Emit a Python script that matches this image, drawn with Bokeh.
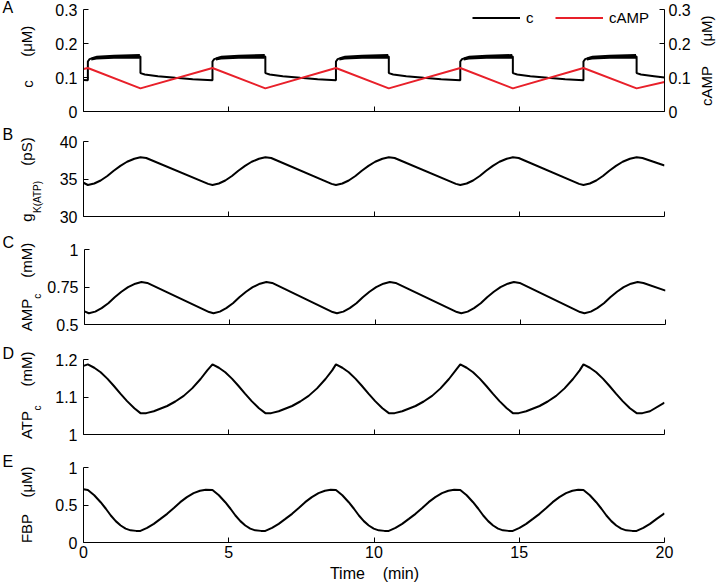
import math
from bokeh.plotting import figure
from bokeh.models import Range1d, LinearAxis, FixedTicker, Legend, LegendItem
from bokeh.layouts import column, row
from bokeh.embed import file_html
from bokeh.resources import INLINE
from bokeh.core.properties import value

# ---------------- data ----------------
x_ticks = [0, 5, 10, 15, 20]
x_tick_labels = ["0", "5", "10", "15", "20"]

# Panel A: cytosolic Ca (c) and cAMP, uM
c_t = [0.00, 0.15, 0.15, 0.21, 0.35, 1.05, 1.96, 1.96, 2.11, 2.56, 3.16, 3.76,
       4.44, 4.44, 4.50, 4.64, 5.34, 6.26, 6.26, 6.41, 6.86, 7.46, 8.06,
       8.69, 8.69, 8.75, 8.89, 9.59, 10.51, 10.51, 10.66, 11.11, 11.71, 12.31,
       12.97, 12.97, 13.03, 13.17, 13.87, 14.78, 14.78, 14.93, 15.38, 15.98, 16.58,
       17.21, 17.21, 17.27, 17.41, 18.11, 19.04, 19.04, 19.19, 19.64, 20.00]
c_v = [0.093, 0.092, 0.147, 0.154, 0.158, 0.161, 0.162, 0.113, 0.109, 0.104, 0.099, 0.095,
       0.092, 0.147, 0.154, 0.158, 0.161, 0.162, 0.113, 0.109, 0.104, 0.099, 0.095,
       0.092, 0.147, 0.154, 0.158, 0.161, 0.162, 0.113, 0.109, 0.104, 0.099, 0.095,
       0.092, 0.147, 0.154, 0.158, 0.161, 0.162, 0.113, 0.109, 0.104, 0.099, 0.095,
       0.092, 0.147, 0.154, 0.158, 0.161, 0.162, 0.113, 0.109, 0.104, 0.100]
# fast-oscillation band during the active phases (lower / upper envelope)
band_t = [[0.27, 0.45, 1.05, 1.94], [4.56, 4.74, 5.34, 6.24], [8.81, 8.99, 9.59, 10.49],
          [13.09, 13.27, 13.87, 14.76], [17.33, 17.51, 18.11, 19.02]]
band_lo = [[0.150, 0.153, 0.155, 0.155], [0.150, 0.153, 0.155, 0.155], [0.150, 0.153, 0.155, 0.155],
           [0.150, 0.153, 0.155, 0.155], [0.150, 0.153, 0.155, 0.155]]
band_hi = [[0.158, 0.164, 0.167, 0.169], [0.158, 0.164, 0.167, 0.169], [0.158, 0.164, 0.167, 0.169],
           [0.158, 0.164, 0.167, 0.169], [0.158, 0.164, 0.167, 0.169]]
camp_t = [0.00, 0.15, 1.96, 4.44, 6.26, 8.69, 10.51, 12.97, 14.78, 17.21, 19.04, 20.00]
camp_v = [0.125, 0.128, 0.068, 0.128, 0.068, 0.128, 0.068, 0.128, 0.068, 0.128, 0.068, 0.087]
a_ticks = [0, 0.1, 0.2, 0.3]
a_tick_labels = ["0", "0.1", "0.2", "0.3"]

# Panel B: gK(ATP), pS
gk_t = [0.00,
        0.15, 0.37, 0.59, 0.82, 1.04, 1.27, 1.50, 1.75, 1.96, 2.16, 4.29,
        4.44, 4.66, 4.88, 5.11, 5.33, 5.56, 5.79, 6.04, 6.26, 6.46, 8.54,
        8.69, 8.91, 9.13, 9.36, 9.58, 9.81, 10.04, 10.29, 10.51, 10.71, 12.82,
        12.97, 13.19, 13.41, 13.64, 13.86, 14.09, 14.32, 14.57, 14.78, 14.98, 17.06,
        17.21, 17.43, 17.65, 17.88, 18.10, 18.33, 18.56, 18.81, 19.04, 19.24, 20.00]
gk_v = [34.5,
        34.2, 34.4, 34.8, 35.4, 36.1, 36.75, 37.3, 37.7, 37.9, 37.8, 34.35,
        34.2, 34.4, 34.8, 35.4, 36.1, 36.75, 37.3, 37.7, 37.9, 37.8, 34.35,
        34.2, 34.4, 34.8, 35.4, 36.1, 36.75, 37.3, 37.7, 37.9, 37.8, 34.35,
        34.2, 34.4, 34.8, 35.4, 36.1, 36.75, 37.3, 37.7, 37.9, 37.8, 34.35,
        34.2, 34.4, 34.8, 35.4, 36.1, 36.75, 37.3, 37.7, 37.9, 37.8, 36.8]
b_ticks = [30, 35, 40]
b_tick_labels = ["30", "35", "40"]

# Panel C: AMPc, mM
amp_t = gk_t
amp_v = [0.587,
         0.575, 0.586, 0.609, 0.642, 0.682, 0.718, 0.749, 0.772, 0.783, 0.777, 0.583,
         0.575, 0.586, 0.609, 0.642, 0.682, 0.718, 0.749, 0.772, 0.783, 0.777, 0.583,
         0.575, 0.586, 0.609, 0.642, 0.682, 0.718, 0.749, 0.772, 0.783, 0.777, 0.583,
         0.575, 0.586, 0.609, 0.642, 0.682, 0.718, 0.749, 0.772, 0.783, 0.777, 0.583,
         0.575, 0.586, 0.609, 0.642, 0.682, 0.718, 0.749, 0.772, 0.783, 0.777, 0.726]
c_ticks = [0.5, 0.75, 1.0]
c_tick_labels = ["0.5", "0.75", "1"]

# Panel D: ATPc, mM
atp_t = [0.00,
         0.15, 0.37, 0.59, 0.82, 1.04, 1.27, 1.50, 1.75, 1.96, 2.16, 2.42, 2.88, 3.16, 3.45, 3.74, 4.03, 4.26,
         4.44, 4.66, 4.88, 5.11, 5.33, 5.56, 5.79, 6.04, 6.26, 6.46, 6.72, 7.18, 7.46, 7.75, 8.04, 8.33, 8.56,
         8.69, 8.91, 9.13, 9.36, 9.58, 9.81, 10.04, 10.29, 10.51, 10.71, 10.97, 11.43, 11.71, 12.00, 12.29, 12.58, 12.81,
         12.97, 13.19, 13.41, 13.64, 13.86, 14.09, 14.32, 14.57, 14.78, 14.98, 15.24, 15.70, 15.98, 16.27, 16.56, 16.85, 17.08,
         17.21, 17.43, 17.65, 17.88, 18.10, 18.33, 18.56, 18.81, 19.04, 19.24, 19.50, 20.00]
atp_v = [1.183,
         1.187, 1.178, 1.166, 1.149, 1.130, 1.109, 1.089, 1.070, 1.057, 1.057, 1.062, 1.076, 1.088, 1.103, 1.123, 1.148, 1.171,
         1.187, 1.178, 1.166, 1.149, 1.130, 1.109, 1.089, 1.070, 1.057, 1.057, 1.062, 1.076, 1.088, 1.103, 1.123, 1.148, 1.171,
         1.187, 1.178, 1.166, 1.149, 1.130, 1.109, 1.089, 1.070, 1.057, 1.057, 1.062, 1.076, 1.088, 1.103, 1.123, 1.148, 1.171,
         1.187, 1.178, 1.166, 1.149, 1.130, 1.109, 1.089, 1.070, 1.057, 1.057, 1.062, 1.076, 1.088, 1.103, 1.123, 1.148, 1.171,
         1.187, 1.178, 1.166, 1.149, 1.130, 1.109, 1.089, 1.070, 1.057, 1.057, 1.062, 1.085]
d_ticks = [1.0, 1.1, 1.2]
d_tick_labels = ["1", "1.1", "1.2"]

# Panel E: FBP, uM
fbp_t = [0.00,
         0.15, 0.37, 0.59, 0.77, 0.94, 1.11, 1.28, 1.45, 1.62, 1.81, 1.96, 2.19, 2.42, 2.65, 2.88, 3.11, 3.33, 3.56, 3.79, 4.01, 4.21,
         4.44, 4.66, 4.88, 5.06, 5.23, 5.40, 5.57, 5.74, 5.91, 6.11, 6.26, 6.49, 6.72, 6.95, 7.18, 7.41, 7.63, 7.86, 8.09, 8.31, 8.51,
         8.69, 8.91, 9.13, 9.31, 9.48, 9.65, 9.82, 9.99, 10.16, 10.36, 10.51, 10.74, 10.97, 11.20, 11.43, 11.66, 11.88, 12.11, 12.34, 12.56, 12.76,
         12.97, 13.19, 13.41, 13.59, 13.76, 13.93, 14.10, 14.27, 14.44, 14.63, 14.78, 15.01, 15.24, 15.47, 15.70, 15.93, 16.15, 16.38, 16.61, 16.83, 17.03,
         17.21, 17.43, 17.65, 17.83, 18.00, 18.17, 18.34, 18.51, 18.68, 18.89, 19.04, 19.27, 19.50, 19.73, 20.00]
fbp_v = [0.71,
         0.70, 0.63, 0.537, 0.45, 0.36, 0.285, 0.227, 0.185, 0.162, 0.155, 0.155, 0.195, 0.249, 0.315, 0.382, 0.46, 0.538, 0.605, 0.658, 0.69, 0.703,
         0.70, 0.63, 0.537, 0.45, 0.36, 0.285, 0.227, 0.185, 0.162, 0.155, 0.155, 0.195, 0.249, 0.315, 0.382, 0.46, 0.538, 0.605, 0.658, 0.69, 0.703,
         0.70, 0.63, 0.537, 0.45, 0.36, 0.285, 0.227, 0.185, 0.162, 0.155, 0.155, 0.195, 0.249, 0.315, 0.382, 0.46, 0.538, 0.605, 0.658, 0.69, 0.703,
         0.70, 0.63, 0.537, 0.45, 0.36, 0.285, 0.227, 0.185, 0.162, 0.155, 0.155, 0.195, 0.249, 0.315, 0.382, 0.46, 0.538, 0.605, 0.658, 0.69, 0.703,
         0.70, 0.63, 0.537, 0.45, 0.36, 0.285, 0.227, 0.185, 0.162, 0.155, 0.155, 0.195, 0.249, 0.315, 0.388]
e_ticks = [0, 0.5, 1.0]
e_tick_labels = ["0", "0.5", "1"]

# ---------------- styling / layout ----------------
FONT = "Liberation Sans"
TICK_FS = "16px"
BLACK = "#000000"
RED = "#e8202a"
LW = 2
LAB_W = 44        # width of the left strip holding the y-axis titles
AX_W = 39         # room for tick labels (frame starts at x = 83)
FRAME_W = 581
RIGHT_B = 34
PANEL_RIGHT = LAB_W + AX_W + FRAME_W + RIGHT_B   # 698
RLAB_W = 716 - PANEL_RIGHT                       # right strip for the cAMP axis title
CAP_MID = 5.6     # px between a 16px text's baseline and the middle of its em box
NBSP = "\u00a0"


def style_axis(ax, ticks, labels, show_labels=True, standoff=6):
    ax.ticker = FixedTicker(ticks=ticks)
    ax.major_tick_in = 5
    ax.major_tick_out = 0
    ax.minor_tick_in = 0
    ax.minor_tick_out = 0
    ax.axis_line_color = BLACK
    ax.axis_line_width = 1
    ax.major_tick_line_color = BLACK
    ax.major_label_text_font = FONT
    ax.major_label_text_color = BLACK
    ax.major_label_text_font_size = TICK_FS
    ax.axis_label_standoff = 0
    if show_labels:
        ax.major_label_overrides = {t: s for t, s in zip(ticks, labels)}
        ax.major_label_standoff = standoff
    else:
        ax.major_label_overrides = {t: "" for t in ticks}
        ax.major_label_standoff = 0


def make_panel(yr, yticks, ylabels, top, frame_h, bottom, show_x=False):
    p = figure(frame_width=FRAME_W, frame_height=frame_h,
               x_range=Range1d(0, 20), y_range=Range1d(*yr),
               output_backend="svg", toolbar_location=None,
               min_border_left=AX_W, min_border_right=RIGHT_B,
               min_border_top=top, min_border_bottom=bottom, frame_align=False)
    p.outline_line_color = None
    p.xgrid.visible = False
    p.ygrid.visible = False
    p.background_fill_color = None
    p.border_fill_color = None
    style_axis(p.xaxis[0], x_ticks, x_tick_labels, show_labels=show_x, standoff=3)
    style_axis(p.yaxis[0], yticks, ylabels, show_labels=True, standoff=6)
    return p


def text_strip(width, height):
    f = figure(frame_width=width, frame_height=height,
               x_range=Range1d(0, width), y_range=Range1d(0, height),
               output_backend="svg", toolbar_location=None,
               min_border=0, x_axis_type=None, y_axis_type=None, frame_align=False)
    f.outline_line_color = None
    f.xgrid.visible = False
    f.ygrid.visible = False
    f.background_fill_color = None
    f.border_fill_color = None
    return f


def put(f, height, top_win, x_loc, y_win, text, size, angle=math.pi / 2, align="center"):
    f.text(x=[x_loc], y=[height - (y_win - top_win)], text=[text], angle=angle,
           text_font=value(FONT), text_font_size=value(size),
           text_align=value(align), text_baseline=value("middle"), text_color=BLACK)


def put_h(f, height, top_win, x_loc, baseline_win, text, size="16px", align="left"):
    # horizontal text placed by the window y of its baseline
    put(f, height, top_win, x_loc, baseline_win - CAP_MID, text, size, angle=0, align=align)


MID = 26     # x centre (window px) of the rotated y titles
SUBM = 37    # x centre of their subscripts
RX = 706 - PANEL_RIGHT

# ---------------- Panel A ----------------
TA = 0
pA = make_panel((0, 0.3), a_ticks, a_tick_labels, top=9, frame_h=102, bottom=10)
pA.extra_y_ranges = {"camp": Range1d(0, 0.3)}
axR = LinearAxis(y_range_name="camp")
style_axis(axR, a_ticks, a_tick_labels, show_labels=True, standoff=4)
pA.add_layout(axR, "right")
for bt, lo, hi in zip(band_t, band_lo, band_hi):
    pA.varea(x=bt, y1=lo, y2=hi, fill_color=BLACK)
r_c = pA.line(c_t, c_v, line_color=BLACK, line_width=LW)
r_camp = pA.line(camp_t, camp_v, line_color=RED, line_width=LW, y_range_name="camp")
leg = Legend(items=[LegendItem(label="c", renderers=[r_c]),
                    LegendItem(label="cAMP", renderers=[r_camp])],
             orientation="horizontal", location=(389, 102 - 17),
             border_line_color=None, background_fill_alpha=0,
             padding=0, margin=0, glyph_width=48, glyph_height=17,
             label_height=17, label_standoff=6, spacing=9,
             label_text_font=FONT, label_text_font_size="15px", label_text_color=BLACK)
pA.add_layout(leg)
HA = 9 + 102 + 10
lA = text_strip(LAB_W, HA)
put_h(lA, HA, TA, 2, 13, "A")
put(lA, HA, TA, MID + 1, 83.5, "c", "15px")
put(lA, HA, TA, MID, 40.75, "(\u03bcM)", "15px")
rA = text_strip(RLAB_W, HA)
put(rA, HA, TA, RX, 85.5, "cAMP", "15px")
put(rA, HA, TA, RX, 30.5, "(\u03bcM)", "15px")
rowA = row(lA, pA, rA, spacing=0)

# ---------------- Panel B ----------------
TB = TA + HA
pB = make_panel((30, 40), b_ticks, b_tick_labels, top=20, frame_h=75, bottom=10)
pB.line(gk_t, gk_v, line_color=BLACK, line_width=LW)
HB = 20 + 75 + 10
lB = text_strip(LAB_W, HB)
put_h(lB, HB, TB, 2, 140, "B")
put(lB, HB, TB, MID, 217, "g", "15px")
put(lB, HB, TB, SUBM, 196.5, "K(ATP)", "10px")
put(lB, HB, TB, MID, 151, "(pS)", "15px")
rowB = row(lB, pB, spacing=0)

# ---------------- Panel C ----------------
TC = TB + HB
pC = make_panel((0.5, 1.0), c_ticks, c_tick_labels, top=23, frame_h=75, bottom=10)
pC.line(amp_t, amp_v, line_color=BLACK, line_width=LW)
HC = 23 + 75 + 10
lC = text_strip(LAB_W, HC)
put_h(lC, HC, TC, 2, 248, "C")
put(lC, HC, TC, MID, 314.5, "AMP", "15px")
put(lC, HC, TC, SUBM, 295.75, "c", "10px")
put(lC, HC, TC, MID, 259.75, "(mM)", "15px")
rowC = row(lC, pC, spacing=0)

# ---------------- Panel D ----------------
TD = TC + HC
pD = make_panel((1.0, 1.2), d_ticks, d_tick_labels, top=25, frame_h=75, bottom=10)
pD.line(atp_t, atp_v, line_color=BLACK, line_width=LW)
HD = 25 + 75 + 10
lD = text_strip(LAB_W, HD)
put_h(lD, HD, TD, 2, 359, "D")
put(lD, HD, TD, MID, 424.5, "ATP", "15px")
put(lD, HD, TD, SUBM, 407.4, "c", "10px")
put(lD, HD, TD, MID, 368.4, "(mM)", "15px")
rowD = row(lD, pD, spacing=0)

# ---------------- Panel E ----------------
TE = TD + HD
pE = make_panel((0, 1.0), e_ticks, e_tick_labels, top=23, frame_h=75, bottom=24, show_x=True)
pE.line(fbp_t, fbp_v, line_color=BLACK, line_width=LW)
HE = 23 + 75 + 24
lE = text_strip(LAB_W, HE)
put_h(lE, HE, TE, 2, 467, "E")
put(lE, HE, TE, MID, 528, "FBP", "15px")
put(lE, HE, TE, MID, 481.5, "(\u03bcM)", "15px")
rowE = row(lE, pE, spacing=0)

# ---------------- x-axis title ----------------
TT = TE + HE
HT = 17
tT = text_strip(PANEL_RIGHT, HT)
put_h(tT, HT, TT, 374, 579, "Time" + NBSP * 4 + "(min)", align="center")

layout = column(rowA, rowB, rowC, rowD, rowE, tT, spacing=0)

open("out.html", "w").write(file_html(layout, INLINE))
